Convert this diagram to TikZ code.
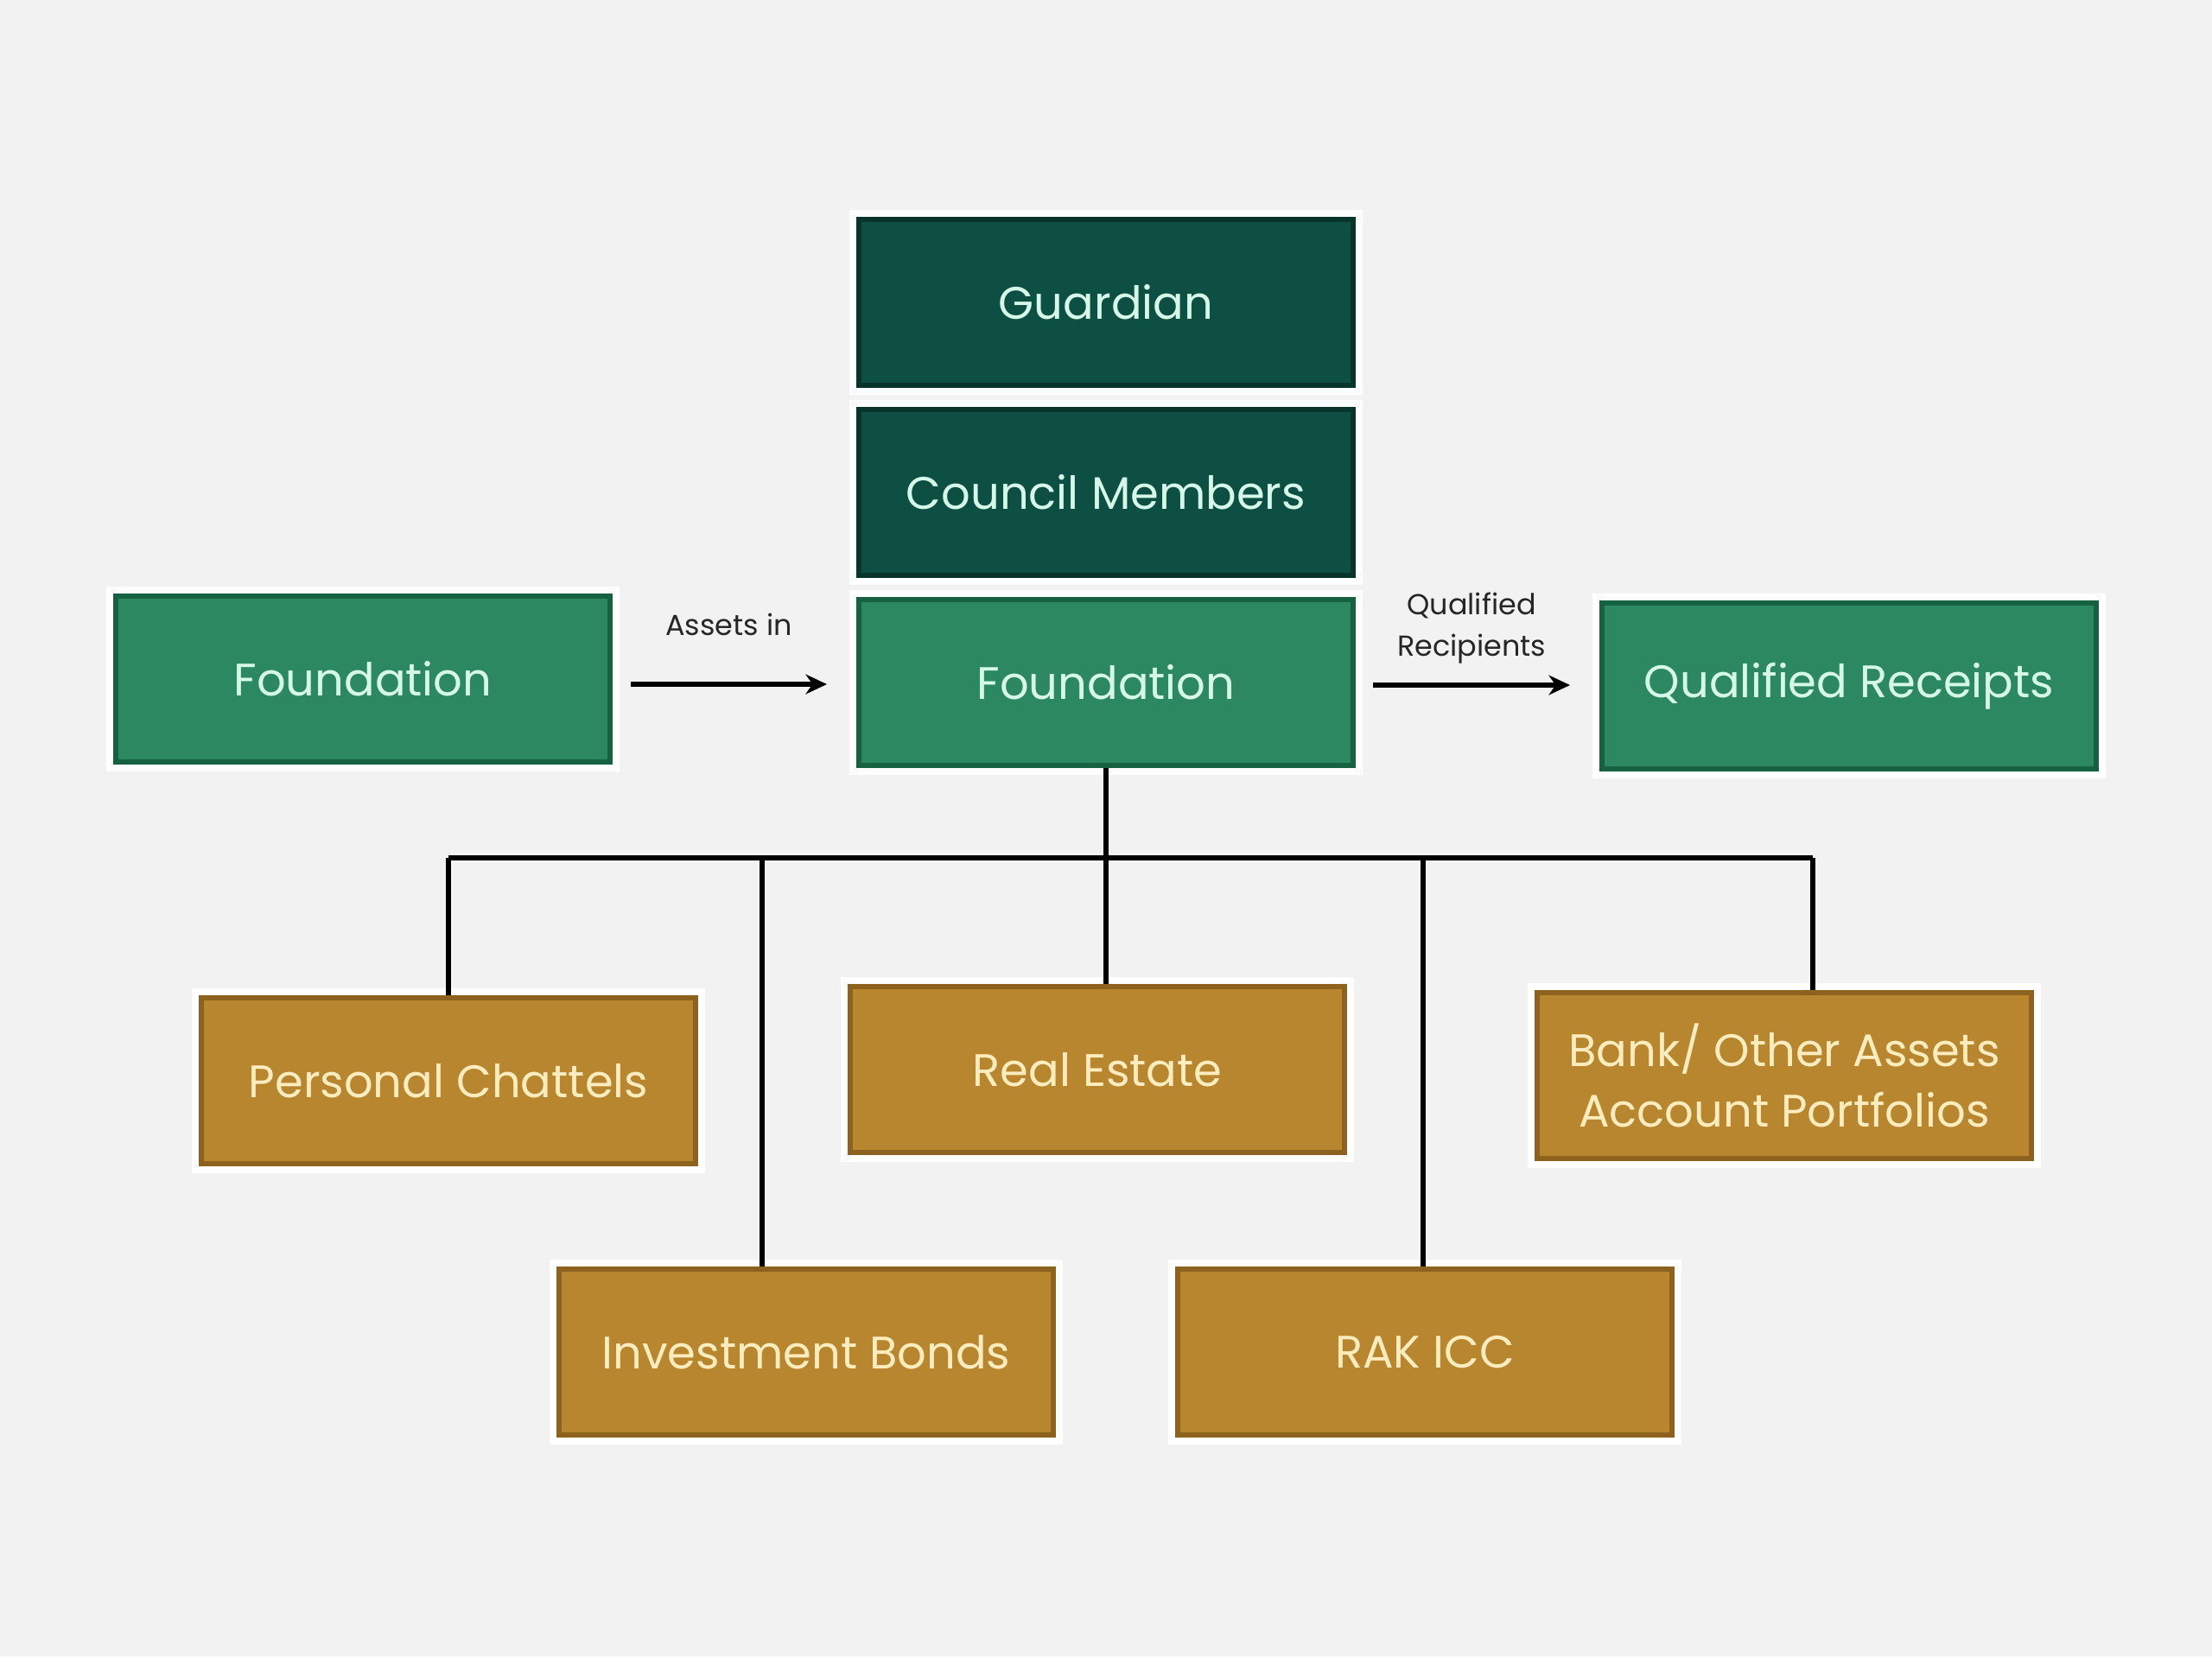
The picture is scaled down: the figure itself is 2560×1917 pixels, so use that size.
\documentclass[tikz,border=0pt]{standalone}
\usepackage{fontspec}
\setmainfont{Poppins}
\usepackage{tikz}
\usetikzlibrary{calc}
\usetikzlibrary{arrows.meta}
\definecolor{bgc}{RGB}{242,242,242}
\definecolor{deepgreen}{RGB}{14,79,68}
\definecolor{deepline}{RGB}{8,52,44}
\definecolor{midgreen}{RGB}{44,136,96}
\definecolor{midline}{RGB}{22,98,64}
\definecolor{gold}{RGB}{185,134,48}
\definecolor{goldline}{RGB}{140,98,30}
\definecolor{mint}{RGB}{214,248,232}
\definecolor{cream}{RGB}{253,236,190}
\tikzset{
    box/.style={minimum width=5.72cm,minimum height=1.92cm,line width=1.6pt,
        preaction={draw=white,line width=6pt},font=\fontsize{15}{20}\selectfont,align=center},
    topbox/.style={box,fill=deepgreen,draw=deepline,text=mint},
    fndbox/.style={box,fill=midgreen,draw=midline,text=mint},
    assetbox/.style={box,fill=gold,draw=goldline,text=cream},
    tag/.style={font=\fontsize{9.5}{13.5}\selectfont,align=center,text=black!85},
    link/.style={line width=1.5pt},
}
\begin{document}
\begin{tikzpicture}[x=0.01cm,y=-0.01cm,>={Stealth[length=7pt,width=6.5pt]}]
        \fill[bgc](0,0)rectangle(2560,1917);
        \useasboundingbox(0,0)rectangle(2560,1917);
        \node[topbox](gd)at(1280,350){Guardian};
        \node[topbox](cm)at(1280,570){Council Members};
        \node[fndbox](fc)at(1280,790){Foundation};
        \node[fndbox](fl)at(420,786){Foundation};
        \node[fndbox](qr)at(2140,794){Qualified Receipts};
        \node[assetbox](pc)at(519,1251){Personal Chattels};
        \node[assetbox](re)at(1270,1238){Real Estate};
        \node[assetbox](ba)at(2065,1245){Bank/ Other Assets\\Account Portfolios};
        \node[assetbox](ib)at(933,1565){Investment Bonds};
        \node[assetbox](rk)at(1649,1565){RAK ICC};
        % arrows between the foundations
        \coordinate(ain)at(730,792);
        \coordinate(aout)at(1589,793);
        \draw[->,link](ain)--node[tag,above=12pt]{Assets in}($(fc.west|-ain)+(-34,0)$);
        \draw[->,link](aout)--node[tag,above=3pt]{Qualified\\Recipients}($(qr.west|-aout)+(-34,0)$);
        % tree below the foundation
        \coordinate(jpc)at(519,993);
        \coordinate(jib)at(882,993);
        \coordinate(jrk)at(1647,993);
        \coordinate(jba)at(2098,993);
        \draw[link](fc.south)--(fc.south|-jpc);
        \draw[link](jpc)--(jba);
        \draw[link](jpc)--(jpc|-pc.north);
        \draw[link](jib)--(jib|-ib.north);
        \draw[link](fc.south|-jpc)--(fc.south|-re.north);
        \draw[link](jrk)--(jrk|-rk.north);
        \draw[link](jba)--(jba|-ba.north);
    \end{tikzpicture}
\end{document}
